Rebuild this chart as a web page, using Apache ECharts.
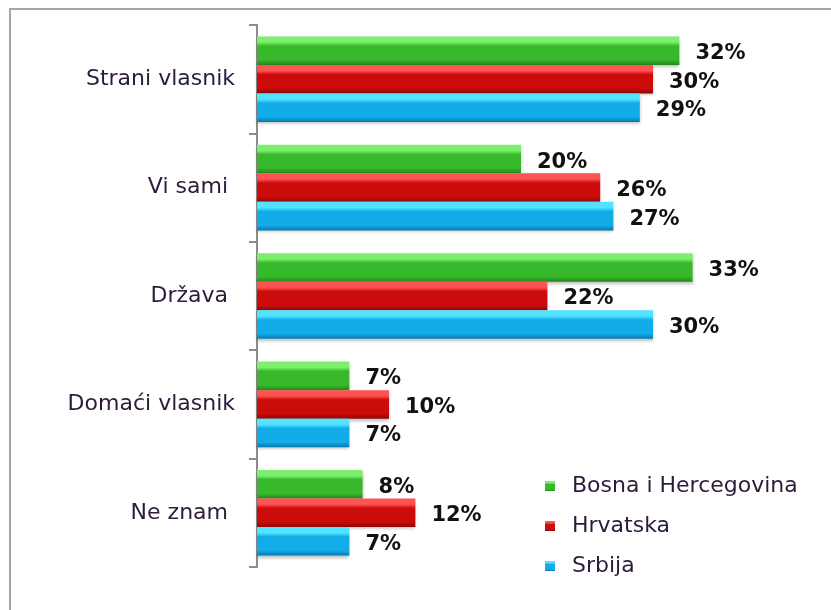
<!DOCTYPE html>
<html>
<head>
<meta charset="utf-8">
<script src="https://cdn.jsdelivr.net/npm/echarts@6/dist/echarts.min.js"></script>
<style>
  html, body { margin: 0; padding: 0; background: #fff; }
  #chart { width: 831px; height: 610px; }
</style>
</head>
<body>
<div id="chart"></div>
<script>
const categories = ["Strani vlasnik", "Vi sami ", "Država ", "Domaći vlasnik", "Ne znam "];
const bosna = [32, 20, 33, 7, 8];
const hrvatska = [30, 26, 22, 10, 12];
const srbija = [29, 27, 30, 7, 7];

const textColor = "#2e1b3c";

function barFill(top, body, bottom) {
  return new echarts.graphic.LinearGradient(0, 0, 0, 1, [
    { offset: 0, color: top },
    { offset: 0.2, color: top },
    { offset: 0.34, color: body },
    { offset: 0.82, color: body },
    { offset: 1, color: bottom },
  ]);
}

function makeSeries(name, data, fill) {
  return {
    name,
    type: "bar",
    data,
    barGap: "0%",
    barCategoryGap: "21%",
    itemStyle: {
      color: fill,
      shadowColor: "rgba(0,0,0,0.25)",
      shadowBlur: 3,
      shadowOffsetY: 2,
    },
    label: {
      show: true,
      position: "right",
      distance: 16,
      offset: [0, 3],
      formatter: "{c}%",
      fontFamily: "DejaVu Sans",
      fontWeight: "bold",
      fontSize: 21,
      color: "#111",
    },
  };
}

const chart = echarts.init(document.getElementById("chart"));
chart.setOption({
  animation: false,
  graphic: [
    {
      type: "rect",
      shape: { x: 10, y: 9, width: 900, height: 700 },
      style: { fill: "none", stroke: "#a6a6a6", lineWidth: 2 },
      silent: true,
    },
  ],
  legend: {
    orient: "vertical",
    left: 540,
    top: 468,
    icon: "rect",
    itemWidth: 10,
    itemHeight: 10,
    itemGap: 14,
    textStyle: {
      fontFamily: "DejaVu Sans",
      fontSize: 22,
      color: textColor,
      lineHeight: 26,
      padding: [0, 0, 0, 12],
    },
    data: ["Bosna i Hercegovina", "Hrvatska", "Srbija"],
  },
  grid: { left: 257, top: 25, bottom: 43, width: 528 },
  xAxis: {
    type: "value",
    min: 0,
    max: 40,
    show: false,
  },
  yAxis: {
    type: "category",
    inverse: true,
    data: categories,
    axisLine: { lineStyle: { color: "#8c8c8c", width: 2 } },
    axisTick: { show: true, length: 8, lineStyle: { color: "#8c8c8c", width: 2 } },
    axisLabel: {
      margin: 22,
      fontFamily: "DejaVu Sans",
      fontSize: 22,
      color: textColor,
    },
  },
  series: [
    makeSeries("Bosna i Hercegovina", bosna, barFill("#7cf06c", "#37b92b", "#24861c")),
    makeSeries("Hrvatska", hrvatska, barFill("#ff5252", "#cc0b0b", "#8c0707")),
    makeSeries("Srbija", srbija, barFill("#52e4ff", "#12ace9", "#0a78ad")),
  ],
});
</script>
</body>
</html>
